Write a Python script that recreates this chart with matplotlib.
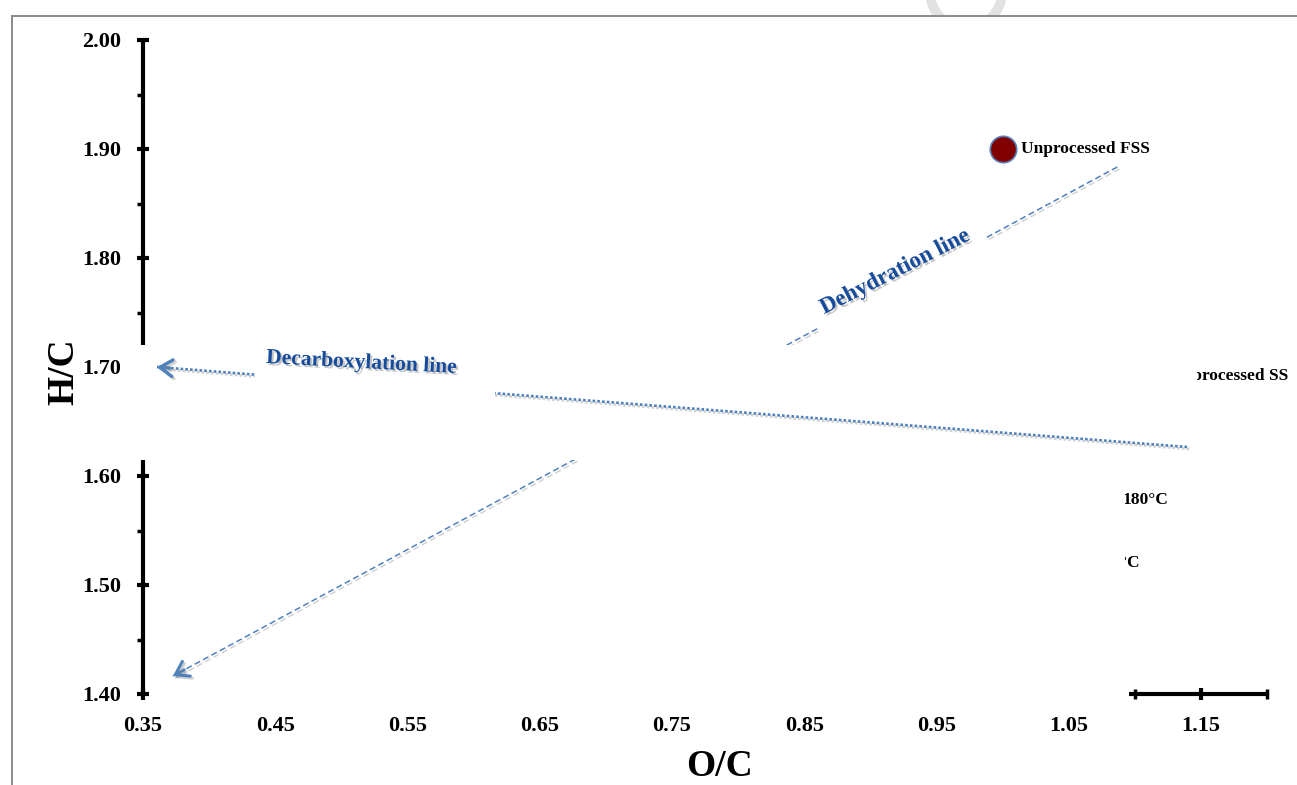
import matplotlib
matplotlib.use("Agg")
import matplotlib.pyplot as plt
import matplotlib.patheffects as pe
from matplotlib.patches import Rectangle, Circle
from matplotlib.lines import Line2D
from matplotlib.transforms import Bbox, IdentityTransform
from matplotlib.ticker import FixedLocator

plt.rcParams['font.family'] = ['Liberation Serif', 'DejaVu Serif']

# measured samples (O/C, H/C)
sample_oc = [1.00]
sample_hc = [1.90]
sample_names = ["Unprocessed FSS"]

# labels whose markers sit under the white panels
hidden_names = ["Unprocessed SS", "180°C", "200°C"]
hidden_oc = [1.2158, 1.1255, 1.1042]
hidden_hc = [1.6917, 1.5780, 1.5202]

# reference lines, drawn from start to arrow tip
decarb_oc = [1.1396, 0.3606]
decarb_hc = [1.6266, 1.7000]
dehyd_oc = [1.0868, 0.3726]
dehyd_hc = [1.8835, 1.4165]

x_major = [0.35, 0.45, 0.55, 0.65, 0.75, 0.85, 0.95, 1.05, 1.15]
x_minor = [0.40, 0.50, 0.60, 0.70, 0.80, 0.90, 1.00, 1.10, 1.20]
y_major = [1.40, 1.50, 1.60, 1.70, 1.80, 1.90, 2.00]
y_minor = [1.45, 1.55, 1.65, 1.75, 1.85, 1.95]

LINE_BLUE = '#4f81bd'
TEXT_BLUE = '#174c9c'

W, H = 1297, 785
fig = plt.figure(figsize=(W / 100, H / 100), dpi=100)
ax = fig.add_axes([143 / W, 91 / H, 1124 / W, 654 / H])
ax.set_xlim(0.35, 1.20)
ax.set_ylim(1.40, 2.00)

for s in ['top', 'right']:
    ax.spines[s].set_visible(False)
for s in ['left', 'bottom']:
    ax.spines[s].set_linewidth(3)
    ax.spines[s].set_capstyle('butt')
ax.spines['bottom'].set_bounds(1.096, 1.20)

ax.xaxis.set_major_locator(FixedLocator(x_major))
ax.xaxis.set_minor_locator(FixedLocator(x_minor))
ax.yaxis.set_major_locator(FixedLocator(y_major))
ax.yaxis.set_minor_locator(FixedLocator(y_minor))
ax.set_xticklabels([f"{v:.2f}" for v in x_major])
ax.set_yticklabels([f"{v:.2f}" for v in y_major])
ax.tick_params(which='major', direction='inout', length=9, width=3, pad=11,
               labelsize=16)
ax.tick_params(axis='x', which='minor', direction='inout', length=7, width=2.5)
ax.tick_params(axis='y', which='minor', direction='out', length=4, width=2.5)
for lab in ax.get_xticklabels() + ax.get_yticklabels():
    lab.set_fontweight('bold')

fig.text(64 / W, 1 - 372 / H, "H/C", rotation=90, ha='center', va='center',
         fontsize=27, fontweight='bold')
fig.text(720 / W, 1 - 766 / H, "O/C", ha='center', va='center',
         fontsize=27, fontweight='bold')

# white panels laid over the plot
panels = [
    # (x0, y0, x1, y1, zorder)
    (0.3545, 1.3927, 1.0925, 1.6743, 3.0),
    (0.3387, 1.6147, 0.8468, 1.7202, 4.0),
    (1.0717, 1.6771, 1.1468, 1.7064, 4.0),
    (0.4347, 1.6734, 0.6162, 1.7202, 4.7),
]
for x0, y0, x1, y1, z in panels:
    ax.add_patch(Rectangle((x0, y0), x1 - x0, y1 - y0, facecolor='white',
                           edgecolor='none', zorder=z, clip_on=False))

for name, x, y in zip(hidden_names, hidden_oc, hidden_hc):
    ax.text(x, y, name, ha='right', va='center', fontsize=12.5,
            fontweight='bold', zorder=2.8, clip_on=False)

line_fx = [pe.SimpleLineShadow(offset=(1.5, -1.5), shadow_color='gray', alpha=0.35),
           pe.Normal()]

# dehydration line
ax.plot(dehyd_oc, dehyd_hc, color=LINE_BLUE, lw=1.1, ls=(0, (4, 2.2)),
        zorder=3.5, path_effects=line_fx)
tip = (dehyd_oc[1], dehyd_hc[1])
back = (dehyd_oc[1] + 0.012 * (dehyd_oc[0] - dehyd_oc[1]),
        dehyd_hc[1] + 0.012 * (dehyd_hc[0] - dehyd_hc[1]))
ax.annotate('', xy=tip, xytext=back, zorder=3.5,
            arrowprops=dict(arrowstyle='->,head_length=0.45,head_width=0.3',
                            color=LINE_BLUE, lw=2.2, mutation_scale=20,
                            shrinkA=0, shrinkB=0, path_effects=line_fx))

# decarboxylation line
ax.plot(decarb_oc, decarb_hc, color=LINE_BLUE, lw=1.9, ls=(0, (1, 0.8)),
        zorder=4.5, path_effects=line_fx)
tip = (decarb_oc[1], decarb_hc[1])
back = (decarb_oc[1] + 0.012 * (decarb_oc[0] - decarb_oc[1]),
        decarb_hc[1] + 0.012 * (decarb_hc[0] - decarb_hc[1]))
ax.annotate('', xy=tip, xytext=back, zorder=4.5,
            arrowprops=dict(arrowstyle='->,head_length=0.45,head_width=0.3',
                            color=LINE_BLUE, lw=2.4, mutation_scale=20,
                            shrinkA=0, shrinkB=0, path_effects=line_fx))

text_fx = [pe.withSimplePatchShadow(offset=(1.5, -1.5), shadow_rgbFace='gray',
                                    alpha=0.45)]
ax.text(0.5152, 1.7037, "Decarboxylation line", rotation=-3, ha='center',
        va='center', fontsize=15.5, fontweight='bold', color=TEXT_BLUE,
        zorder=5, path_effects=text_fx, rotation_mode='anchor')
ax.text(0.9186, 1.7872, "Dehydration line", rotation=27, ha='center',
        va='center', fontsize=16.5, fontweight='bold', color=TEXT_BLUE,
        zorder=5, path_effects=text_fx, rotation_mode='anchor',
        bbox=dict(facecolor='white', edgecolor='none', pad=9))

ax.scatter(sample_oc, sample_hc, s=19 ** 2, c='#800000', edgecolors='#5a7fb8',
           linewidths=1.2, zorder=6)
for name, x, y in zip(sample_names, sample_oc, sample_hc):
    ax.annotate(name, (x, y), xytext=(13, 0), textcoords='offset points',
                va='center', fontsize=12.5, fontweight='bold', zorder=6)

# page frame and the faint ring above it
fig.add_artist(Line2D([12, W], [H - 16, H - 16], transform=IdentityTransform(),
                      color='#8a8a8a', lw=1.4))
fig.add_artist(Line2D([12, 12], [0, H - 16], transform=IdentityTransform(),
                      color='#8a8a8a', lw=1.4))
ring = Circle((966, H + 8), 36, transform=IdentityTransform(), fill=False,
              edgecolor='#e2e2e2', lw=7)
ring.set_clip_box(Bbox.from_extents(0, H - 15, W, H))
fig.add_artist(ring)

fig.savefig("out.png", dpi=100)
